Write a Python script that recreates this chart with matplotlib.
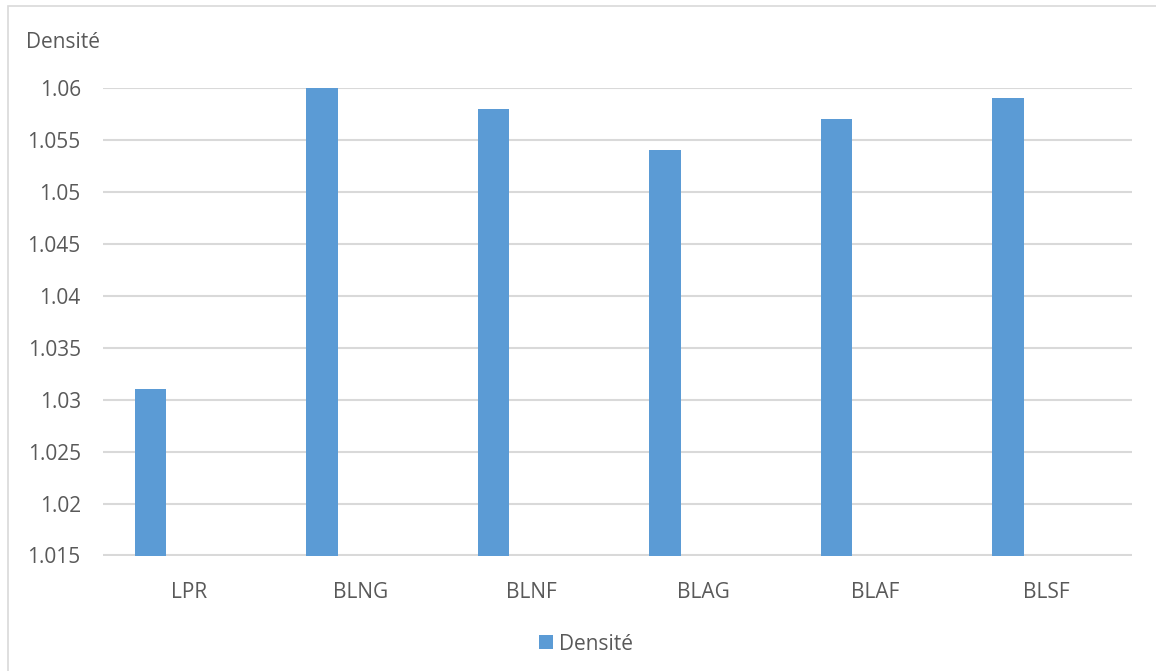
import matplotlib.pyplot as plt
from matplotlib.patches import Rectangle
from matplotlib.ticker import FuncFormatter
import numpy as np

categories = ["LPR", "BLNG", "BLNF", "BLAG", "BLAF", "BLSF"]
densite = [1.031, 1.060, 1.058, 1.054, 1.057, 1.059]
y_ticks = [1.015, 1.02, 1.025, 1.03, 1.035, 1.04, 1.045, 1.05, 1.055, 1.06]

plt.rcParams['font.family'] = ['Open Sans', 'DejaVu Sans']
text_col = '#595959'
bar_col = '#5b9bd5'
grid_col = '#d9d9d9'

fig = plt.figure(figsize=(11.56, 6.71), dpi=100)
W, H = 1156, 671

# light frame around the chart (cut off on the right and bottom)
fig.patches.append(Rectangle((8 / W, -0.1), 1.2, (671 - 6) / H + 0.1,
                             transform=fig.transFigure, fill=False,
                             edgecolor='#d9d9d9', linewidth=1.2))

ax = fig.add_axes([103 / W, (H - 555.5) / H, (1132 - 103) / W, (555.5 - 88) / H])

x = np.arange(len(categories))
# bar sits left of the category centre, like an Excel clustered column
bars = ax.bar(x - 0.223, densite, width=0.181, color=bar_col, label='Densité', zorder=3)

ax.set_xlim(-0.5, len(categories) - 0.5)
ax.set_ylim(1.015, 1.06)
ax.set_yticks(y_ticks)
ax.yaxis.set_major_formatter(FuncFormatter(lambda v, p: f"{v:g}"))
ax.set_xticks(x)
ax.set_xticklabels(categories)

ax.grid(axis='y', color=grid_col, linewidth=1.5, zorder=0)
for s in ax.spines.values():
    s.set_visible(False)
ax.tick_params(axis='both', length=0, labelsize=15, colors=text_col)
ax.tick_params(axis='y', pad=16)
ax.tick_params(axis='x', pad=19)

fig.text(26 / W, 1 - 42 / H, 'Densité', fontsize=15, color=text_col,
         ha='left', va='center')

fig.legend(handles=[bars], labels=['Densité'], loc='center',
           bbox_to_anchor=(586 / W, 1 - 644 / H), frameon=False,
           fontsize=15, labelcolor=text_col, handlelength=0.67,
           handleheight=0.67, handletextpad=0.3)

fig.savefig('out.png', dpi=100)
